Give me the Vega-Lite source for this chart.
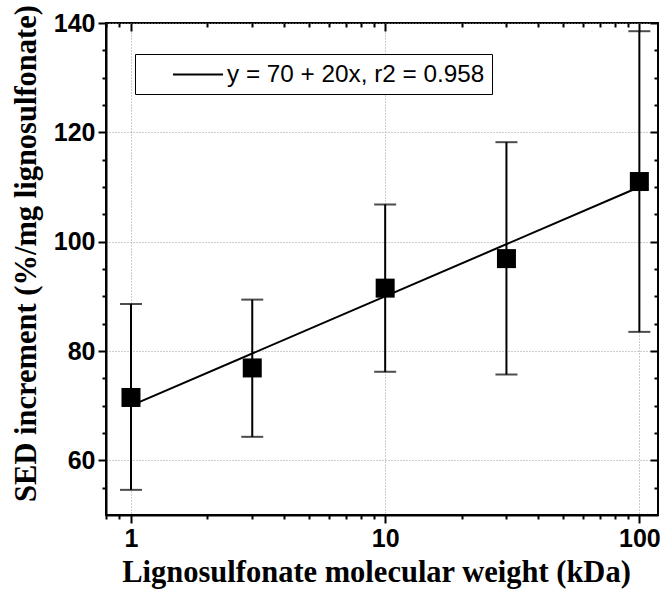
{
  "$schema": "https://vega.github.io/schema/vega-lite/v6.json",
  "width": 552,
  "height": 492,
  "autosize": {"type": "none"},
  "padding": {"left": 106, "top": 23, "right": 7, "bottom": 83},
  "background": "white",
  "config": {
    "view": {"stroke": "black", "strokeWidth": 2},
    "axis": {
      "labelFont": "Liberation Sans",
      "labelFontWeight": "bold",
      "labelFontSize": 25,
      "labelColor": "black",
      "titleFont": "Liberation Serif",
      "titleFontWeight": "bold",
      "titleFontSize": 30.5,
      "titleColor": "black",
      "domainColor": "black",
      "domainWidth": 2,
      "ticks": true,
      "tickColor": "black",
      "tickWidth": 2,
      "tickOpacity": 1,
      "gridColor": "#9a9a9a",
      "gridDash": [1, 2],
      "gridWidth": 1,
      "labelFlush": false,
      "labelOverlap": false
    }
  },
  "datasets": {
    "pts": [
      {"mw": 1, "sed": 71.5, "lo": 54.6, "hi": 88.6},
      {"mw": 3, "sed": 76.9, "lo": 64.3, "hi": 89.4},
      {"mw": 10, "sed": 91.5, "lo": 76.2, "hi": 106.8},
      {"mw": 30, "sed": 96.9, "lo": 75.7, "hi": 118.2},
      {"mw": 100, "sed": 111, "lo": 83.5, "hi": 138.5}
    ],
    "fit": [
      {"mw": 1, "sed": 70, "label": "y = 70 + 20x, r2 = 0.958"},
      {"mw": 100, "sed": 110, "label": "y = 70 + 20x, r2 = 0.958"}
    ]
  },
  "resolve": {"axis": {"x": "independent", "y": "independent"}},
  "layer": [
    {
      "data": {"name": "pts"},
      "mark": {"type": "rule", "color": "black", "strokeWidth": 2},
      "encoding": {
        "x": {
          "field": "mw", "type": "quantitative",
          "scale": {"type": "log", "domain": [0.7975, 118.4], "nice": false},
          "axis": {
            "orient": "bottom",
            "title": "Lignosulfonate molecular weight (kDa)",
            "values": [1, 10, 100],
            "format": "~g",
            "tickSize": 8,
            "grid": true,
            "labelPadding": 3,
            "titlePadding": 6,
            "titleX": 270
          }
        },
        "y": {
          "field": "lo", "type": "quantitative",
          "scale": {"domain": [50, 140], "nice": false, "zero": false},
          "axis": {
            "orient": "left",
            "title": "SED increment (%/mg lignosulfonate)",
            "values": [60, 80, 100, 120, 140],
            "tickSize": 8,
            "grid": true,
            "labelPadding": 3,
            "titlePadding": 12,
            "titleY": 230
          }
        },
        "y2": {"field": "hi"}
      }
    },
    {
      "data": {"name": "pts"},
      "mark": {"type": "tick", "orient": "horizontal", "color": "black", "size": 22, "thickness": 2},
      "encoding": {
        "x": {
          "field": "mw", "type": "quantitative",
          "axis": {
            "orient": "bottom", "title": null, "labels": false, "grid": false, "domain": false,
            "values": [0.8, 0.9, 2, 3, 4, 5, 6, 7, 8, 9, 20, 30, 40, 50, 60, 70, 80, 90],
            "tickSize": 4
          }
        },
        "y": {
          "field": "lo", "type": "quantitative",
          "axis": {
            "orient": "left", "title": null, "labels": false, "grid": false, "domain": false,
            "values": [55, 65, 70, 75, 85, 90, 95, 105, 110, 115, 125, 130, 135],
            "tickSize": 4
          }
        }
      }
    },
    {
      "data": {"name": "pts"},
      "mark": {"type": "tick", "orient": "horizontal", "color": "black", "size": 22, "thickness": 2},
      "encoding": {
        "x": {
          "field": "mw", "type": "quantitative",
          "axis": {
            "orient": "top", "title": null, "labels": false, "grid": false, "domain": false,
            "values": [1, 10, 100],
            "tickSize": -8
          }
        },
        "y": {
          "field": "hi", "type": "quantitative",
          "axis": {
            "orient": "right", "title": null, "labels": false, "grid": false, "domain": false,
            "values": [60, 80, 100, 120, 140],
            "tickSize": -8
          }
        }
      }
    },
    {
      "data": {"name": "fit"},
      "mark": {"type": "line", "strokeWidth": 2},
      "encoding": {
        "x": {
          "field": "mw", "type": "quantitative",
          "axis": {
            "orient": "top", "title": null, "labels": false, "grid": false, "domain": false,
            "values": [0.8, 0.9, 2, 3, 4, 5, 6, 7, 8, 9, 20, 30, 40, 50, 60, 70, 80, 90],
            "tickSize": -4
          }
        },
        "y": {
          "field": "sed", "type": "quantitative",
          "axis": {
            "orient": "right", "title": null, "labels": false, "grid": false, "domain": false,
            "values": [55, 65, 70, 75, 85, 90, 95, 105, 110, 115, 125, 130, 135],
            "tickSize": -4
          }
        },
        "color": {
          "field": "label", "type": "nominal",
          "scale": {"range": ["black"]},
          "legend": {
            "title": null,
            "orient": "none",
            "legendX": 29,
            "legendY": 31,
            "strokeColor": "black",
            "fillColor": "white",
            "padding": 7,
            "symbolType": "M-2,0H2",
            "symbolSize": 625,
            "symbolStrokeWidth": 2,
            "symbolOffset": 42.5,
            "labelFont": "Liberation Sans",
            "labelFontSize": 24.3,
            "labelColor": "black",
            "labelOffset": 15.5,
            "labelLimit": 400
          }
        }
      }
    },
    {
      "data": {"name": "pts"},
      "mark": {"type": "point", "shape": "square", "filled": true, "color": "black", "size": 361, "opacity": 1},
      "encoding": {
        "x": {"field": "mw", "type": "quantitative", "axis": null},
        "y": {"field": "sed", "type": "quantitative", "axis": null}
      }
    }
  ]
}
